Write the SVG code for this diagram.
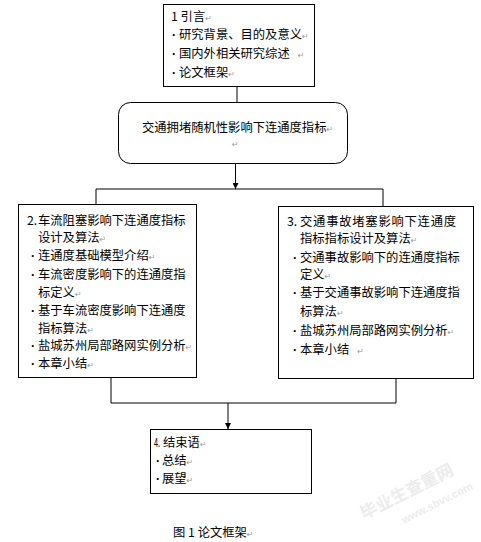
<svg xmlns="http://www.w3.org/2000/svg" width="481" height="542" viewBox="0 0 481 542">
<style>
.box{fill:#fff;stroke:#000;stroke-width:1}
.ln{fill:none;stroke:#000;stroke-width:1}
.t{font-family:"Noto Sans CJK SC","Liberation Sans",sans-serif;font-size:12.3px;fill:#000}
.b{font-family:"Liberation Sans",sans-serif;font-weight:bold}
.pm{font-family:"DejaVu Sans",sans-serif;font-size:8px;fill:#999}
.wm{font-family:"Noto Sans CJK SC",sans-serif;fill:#ececec;font-weight:bold}
</style>
<defs>
<marker id="ah" viewBox="0 0 10 10" refX="10" refY="5" markerWidth="6" markerHeight="6" orient="auto" markerUnits="userSpaceOnUse">
<path d="M0,0 L10,5 L0,10 Z" fill="#000"/>
</marker>
</defs>
<rect width="481" height="542" fill="#fff"/>
<g id="watermark">
<text class="wm" font-size="17" transform="translate(364,520) rotate(-27)">毕业生查重网</text>
<text class="wm" font-size="11" font-weight="normal" transform="translate(404,524) rotate(-27)" style="font-family:'Liberation Sans',sans-serif">www.sbvv.com</text>
</g>
<g id="connectors">
<line class="ln" x1="237" y1="86" x2="237" y2="102"/>
<line class="ln" x1="235.5" y1="163" x2="235.5" y2="189" marker-end="url(#ah)"/>
<polyline class="ln" points="96,204 96,189 383,189 383,206"/>
<polyline class="ln" points="111,377 111,403 396,403 396,378"/>
<line class="ln" x1="228" y1="403" x2="228" y2="429" marker-end="url(#ah)"/>
</g>
<g id="n1">
<rect class="box" x="163.5" y="4.5" width="151" height="82"/>
<text class="t" y="21"><tspan x="171">1 引言</tspan><tspan class="pm">↵</tspan></text>
<text class="t" y="39"><tspan class="b" x="172">·</tspan><tspan x="179">研究背景、目的及意义</tspan><tspan class="pm">↵</tspan></text>
<text class="t" y="58"><tspan class="b" x="172">·</tspan><tspan x="179">国内外相关研究综述</tspan><tspan class="pm" dx="8">↵</tspan></text>
<text class="t" y="77"><tspan class="b" x="172">·</tspan><tspan x="179">论文框架</tspan><tspan class="pm">↵</tspan></text>
</g>
<g id="n2">
<rect class="box" x="118.5" y="102.5" width="229" height="61" rx="12" ry="12"/>
<text class="t" y="132"><tspan x="142">交通拥堵随机性影响下连通度指标</tspan><tspan class="pm">↵</tspan></text>
<text class="pm" x="232" y="147">↵</text>
</g>
<g id="n3">
<rect class="box" x="18.5" y="204.5" width="178" height="173"/>
<text class="t" y="225"><tspan x="27">2.</tspan><tspan x="38">车流阻塞影响下连通度指标</tspan></text>
<text class="t" y="242"><tspan x="38">设计及算法</tspan><tspan class="pm">↵</tspan></text>
<text class="t" y="260"><tspan class="b" x="31">·</tspan><tspan x="38">连通度基础模型介绍</tspan><tspan class="pm">↵</tspan></text>
<text class="t" y="279"><tspan class="b" x="31">·</tspan><tspan x="38">车流密度影响下的连通度指</tspan></text>
<text class="t" y="297"><tspan x="38">标定义</tspan><tspan class="pm">↵</tspan></text>
<text class="t" y="315"><tspan class="b" x="31">·</tspan><tspan x="38">基于车流密度影响下连通度</tspan></text>
<text class="t" y="333"><tspan x="38">指标算法</tspan><tspan class="pm">↵</tspan></text>
<text class="t" y="350"><tspan class="b" x="31">·</tspan><tspan x="38">盐城苏州局部路网实例分析</tspan><tspan class="pm">↵</tspan></text>
<text class="t" y="368"><tspan class="b" x="31">·</tspan><tspan x="38">本章小结</tspan><tspan class="pm">↵</tspan></text>
</g>
<g id="n4">
<rect class="box" x="278.5" y="206.5" width="195" height="172"/>
<text class="t" y="225.5"><tspan x="287">3.</tspan><tspan x="300" textLength="156" lengthAdjust="spacing">交通事故堵塞影响下连通度</tspan></text>
<text class="t" y="243"><tspan x="300">指标指标设计及算法</tspan><tspan class="pm">↵</tspan></text>
<text class="t" y="262"><tspan class="b" x="293">·</tspan><tspan x="300">交通事故影响下的连通度指标</tspan></text>
<text class="t" y="279"><tspan x="300">定义</tspan><tspan class="pm">↵</tspan></text>
<text class="t" y="297"><tspan class="b" x="293">·</tspan><tspan x="300">基于交通事故影响下连通度指</tspan></text>
<text class="t" y="316"><tspan x="300">标算法</tspan><tspan class="pm">↵</tspan></text>
<text class="t" y="335"><tspan class="b" x="293">·</tspan><tspan x="300">盐城苏州局部路网实例分析</tspan><tspan class="pm">↵</tspan></text>
<text class="t" y="354"><tspan class="b" x="293">·</tspan><tspan x="300">本章小结</tspan><tspan class="pm" dx="8">↵</tspan></text>
</g>
<g id="n5">
<rect class="box" x="150.5" y="429.5" width="161" height="64"/>
<text class="t" y="447"><tspan x="154" textLength="6" lengthAdjust="spacingAndGlyphs">4.</tspan><tspan x="163">结束语</tspan><tspan class="pm">↵</tspan></text>
<text class="t" y="465"><tspan class="b" x="156">·</tspan><tspan x="162">总结</tspan><tspan class="pm">↵</tspan></text>
<text class="t" y="483"><tspan class="b" x="156">·</tspan><tspan x="162">展望</tspan><tspan class="pm">↵</tspan></text>
</g>
<g id="caption">
<text class="t" y="537"><tspan x="173">图 1 论文框架</tspan><tspan class="pm">↵</tspan></text>
</g>
</svg>
